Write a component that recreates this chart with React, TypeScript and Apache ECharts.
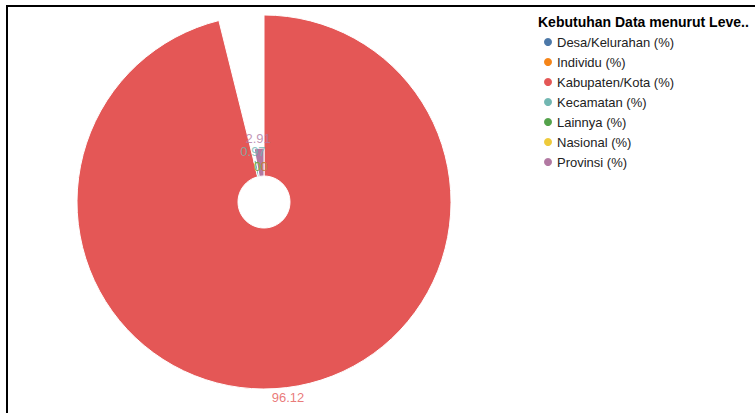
import React, { useEffect, useRef } from "react";
import * as echarts from "echarts";

const categories = [
  "Desa/Kelurahan (%)",
  "Individu (%)",
  "Kabupaten/Kota (%)",
  "Kecamatan (%)",
  "Lainnya (%)",
  "Nasional (%)",
  "Provinsi (%)",
];
const values = [0, 0, 96.12, 0.97, 0, 0, 2.91];
const colors = ["#4c78a8", "#f58518", "#e45756", "#72b7b2", "#54a24b", "#eeca3b", "#b279a2"];
const legendTitle = "Kebutuhan Data menurut Leve..";
// drawing order of the value labels (later ones on top)
const labelOrder = [0, 1, 5, 4, 2, 3, 6];

const FONT = "'Liberation Sans', Arial, Helvetica, sans-serif";

export default function App() {
  const ref = useRef<HTMLDivElement>(null);
  useEffect(() => {
    if (!ref.current) return;
    const chart = echarts.init(ref.current, undefined, { renderer: "svg" });
    const CENTER = [264, 202];
    const R0 = 26;
    const R = 187;
    const RP = R + 40; // polar extent used to place value labels
    const maxV = Math.max(...values);
    const total = values.reduce((a, b) => a + b, 0);
    const rScale = (v: number) => R0 + (R - R0) * Math.sqrt(v / maxV);
    const starts: number[] = [];
    values.reduce((acc, v, i) => {
      starts[i] = acc;
      return acc + v;
    }, 0);

    const sliceSeries = categories.map((c, i) => ({
      type: "pie",
      name: "slice-" + c,
      center: CENTER,
      radius: [R0, rScale(values[i])],
      startAngle: 90,
      clockwise: true,
      silent: true,
      minAngle: 0,
      avoidLabelOverlap: false,
      label: { show: false },
      labelLine: { show: false },
      emphasis: { disabled: true },
      data: categories.map((n, j) => ({
        name: n,
        value: values[j],
        itemStyle:
          j === i
            ? { color: colors[j], borderColor: "#fff", borderWidth: 1 }
            : { color: "rgba(0,0,0,0)", borderWidth: 0 },
      })),
    }));

    const labelSeries = {
      type: "scatter",
      coordinateSystem: "polar",
      silent: true,
      clip: false,
      symbol: "circle",
      symbolSize: 1,
      z: 10,
      itemStyle: { color: "rgba(0,0,0,0)" },
      emphasis: { disabled: true },
      data: labelOrder.map((i) => ({
        value: [rScale(values[i]) + 10, starts[i] + values[i] / 2],
        label: {
          show: true,
          position: "inside",
          color: colors[i],
          fontSize: 13,
          fontFamily: FONT,
          formatter: String(values[i]),
        },
      })),
    };

    chart.setOption({
      animation: false,
      title: {
        text: legendTitle,
        left: 538,
        top: 15,
        padding: 0,
        textStyle: { fontSize: 14, fontWeight: "bold", color: "#000", fontFamily: FONT },
      },
      legend: {
        orient: "vertical",
        left: 544,
        top: 35,
        icon: "circle",
        itemWidth: 8,
        itemHeight: 8,
        itemGap: 6,
        padding: 0,
        selectedMode: false,
        textStyle: { fontSize: 13, color: "#222", fontFamily: FONT, lineHeight: 14 },
        data: categories.map((c, i) => ({ name: c, itemStyle: { color: colors[i], borderWidth: 0 } })),
      },
      polar: { center: CENTER, radius: RP },
      angleAxis: {
        type: "value",
        min: 0,
        max: total,
        startAngle: 90,
        clockwise: true,
        show: false,
      },
      radiusAxis: { type: "value", min: 0, max: RP, show: false },
      graphic: [
        { type: "line", shape: { x1: 6, y1: 6, x2: 755, y2: 6 }, style: { stroke: "#000", lineWidth: 2 } },
        { type: "line", shape: { x1: 7, y1: 5, x2: 7, y2: 413 }, style: { stroke: "#000", lineWidth: 2 } },
      ],
      series: [...sliceSeries, labelSeries],
    });
    return () => chart.dispose();
  }, []);
  return (
    <div
      ref={ref}
      style={{ position: "absolute", left: 0, top: 0, width: 755, height: 413, background: "#fff" }}
    />
  );
}
